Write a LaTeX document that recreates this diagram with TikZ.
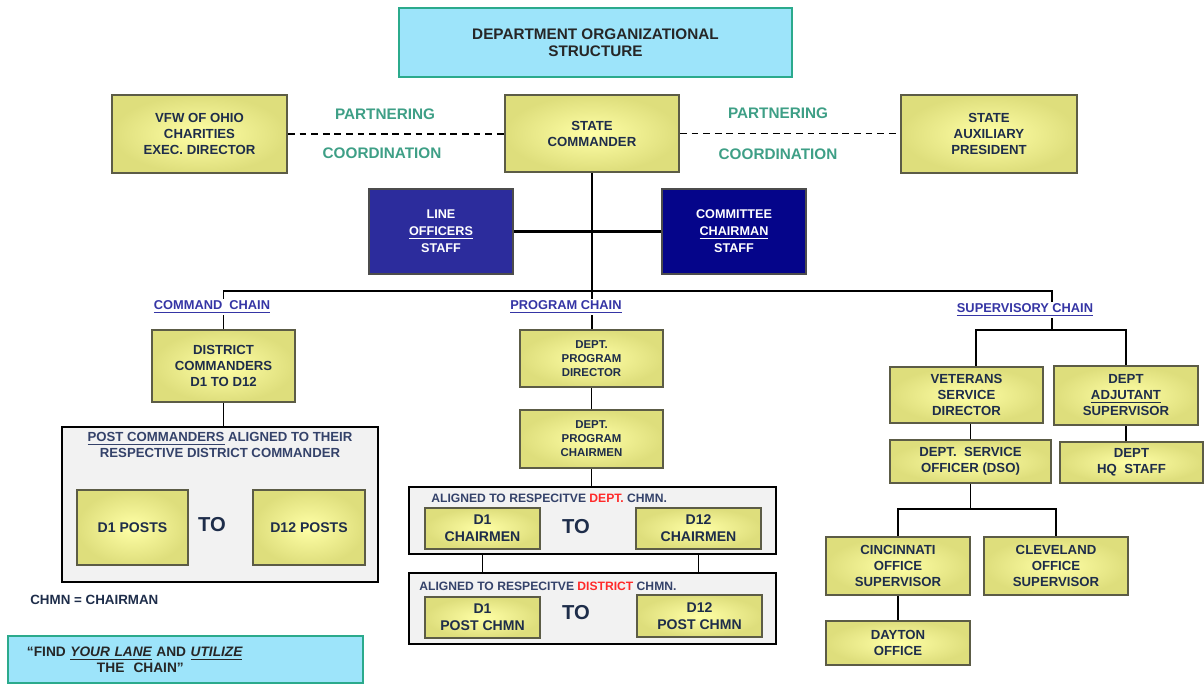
\documentclass[tikz,border=0pt]{standalone}
\usepackage{fontspec}
\setmainfont{Liberation Sans}
\usetikzlibrary{positioning}
\definecolor{yin}{HTML}{FFFFA6}
\definecolor{yout}{HTML}{DEDE7C}
\definecolor{yedge}{HTML}{5C5C46}
\definecolor{ytext}{HTML}{1E2D4A}
\definecolor{skyfill}{HTML}{9DE4FA}
\definecolor{skyedge}{HTML}{2BAA8C}
\definecolor{blueA}{HTML}{2C2C9C}
\definecolor{blueB}{HTML}{05058A}
\definecolor{partner}{HTML}{3E9F86}
\definecolor{chainblue}{HTML}{3535A5}
\definecolor{slate}{HTML}{34426A}
\definecolor{alert}{HTML}{FF2A2A}
\definecolor{holdfill}{HTML}{F2F2F2}
\tikzset{
  wh/.style n args={2}{minimum width=#1*0.2mm, minimum height=#2*0.2mm},
  ybox/.style={draw=yedge, line width=1.2pt, inner color=yin, outer color=yout,
    text=ytext, align=center, inner sep=1pt,
    font=\bfseries\fontsize{7.5}{9.1}\selectfont},
  smallbox/.style={ybox, font=\bfseries\fontsize{6.5}{7.9}\selectfont},
  bbox/.style={draw=gray!60!black, line width=1pt, text=white, align=center,
    font=\bfseries\fontsize{7.2}{9.6}\selectfont},
  skybox/.style={draw=skyedge, line width=1.2pt, fill=skyfill, text=black!85},
  holder/.style={draw=black, line width=1pt, fill=holdfill},
  holdtext/.style={text=slate, inner sep=0pt, font=\bfseries\fontsize{6.9}{8}\selectfont},
  pc/.style={text=partner, font=\bfseries\fontsize{8.7}{10}\selectfont},
  chain/.style={text=chainblue, fill=white, inner sep=1pt,
    font=\bfseries\fontsize{7.3}{8}\selectfont},
  tolabel/.style={text=ytext, font=\bfseries\fontsize{11.5}{12}\selectfont},
  link/.style={line width=0.9pt},
  partnerline/.style={line width=0.9pt, dash pattern=on 3.8pt off 2.8pt}
}
\begin{document}
\begin{tikzpicture}[x=0.2mm, y=-0.2mm]
  \useasboundingbox (0,0) rectangle (1204,684);
  % top row
  \node[skybox, wh={393}{69}, align=center, font=\bfseries\fontsize{8.7}{9.6}\selectfont]
    (title) at (595.5,42.5) {DEPARTMENT ORGANIZATIONAL\\STRUCTURE};
  \node[ybox, wh={175}{78}] (vfw) at (199.5,134) {VFW OF OHIO\\CHARITIES\\EXEC. DIRECTOR};
  \node[ybox, wh={174}{77}] (sc) at (592,133.5) {STATE\\COMMANDER};
  \node[ybox, wh={176}{78}] (aux) at (989,134) {STATE\\AUXILIARY\\PRESIDENT};
  \node[pc] (part1) at (385,114) {PARTNERING};
  \node[pc] (coord1) at (382,153) {COORDINATION};
  \node[pc] (part2) at (778,113) {PARTNERING};
  \node[pc] (coord2) at (778,154) {COORDINATION};
  \node[bbox, fill=blueA, wh={144}{85}] (lo) at (441,231.5) {LINE\\\underline{OFFICERS}\\STAFF};
  \node[bbox, fill=blueB, wh={144}{85}] (cc) at (734,231.5) {COMMITTEE\\\underline{CHAIRMAN}\\STAFF};
  % command chain
  \node[ybox, wh={143}{72}] (dc) at (223.5,366) {DISTRICT\\COMMANDERS\\D1 TO D12};
  \node[holder, wh={316}{155}] (posts) at (220,504.5) {};
  \node[holdtext, align=center, font=\bfseries\fontsize{7.5}{9.1}\selectfont] (poststxt) at (220,445)
    {\underline{POST COMMANDERS} ALIGNED TO THEIR\\RESPECTIVE DISTRICT COMMANDER};
  \node[ybox, wh={111}{75}, font=\bfseries\fontsize{8}{9}\selectfont] (d1p) at (132.5,527.5) {D1 POSTS};
  \node[tolabel] (to1) at (212,525) {TO};
  \node[ybox, wh={112}{75}, font=\bfseries\fontsize{8}{9}\selectfont] (d12p) at (309,527.5) {D12 POSTS};
  \node[text=ytext, anchor=west, inner sep=0pt, font=\bfseries\fontsize{7.6}{9}\selectfont]
    (chmn) at (30,600) {CHMN = CHAIRMAN};
  % program chain
  \node[smallbox, wh={143}{57}] (dpd) at (591.5,358.5) {DEPT.\\PROGRAM\\DIRECTOR};
  \node[smallbox, wh={143}{58}] (dpc) at (591.5,439) {DEPT.\\PROGRAM\\CHAIRMEN};
  \node[holder, wh={367}{67}] (dept) at (592.5,520.5) {};
  \node[holdtext, anchor=west] (depttxt) at (431,498)
    {ALIGNED TO RESPECITVE \textcolor{alert}{DEPT.} CHMN.};
  \node[ybox, wh={115}{41}, font=\bfseries\fontsize{8}{9.6}\selectfont] (d1c) at (482.5,528.5) {D1\\CHAIRMEN};
  \node[tolabel] (to2) at (576,527) {TO};
  \node[ybox, wh={125}{41}, font=\bfseries\fontsize{8}{9.6}\selectfont] (d12c) at (698.5,528.5) {D12\\CHAIRMEN};
  \node[holder, wh={367}{71}] (dist) at (592.5,608.5) {};
  \node[holdtext, anchor=west] (disttxt) at (419,586)
    {ALIGNED TO RESPECITVE \textcolor{alert}{DISTRICT} CHMN.};
  \node[ybox, wh={115}{41}, font=\bfseries\fontsize{8}{9.6}\selectfont] (d1pc) at (482.5,617.5) {D1\\POST CHMN};
  \node[tolabel] (to3) at (576,613) {TO};
  \node[ybox, wh={125}{42}, font=\bfseries\fontsize{8}{9.6}\selectfont] (d12pc) at (699.5,616) {D12\\POST CHMN};
  % supervisory chain
  \node[ybox, wh={153}{56}] (vsd) at (966.5,395) {VETERANS\\SERVICE\\DIRECTOR};
  \node[ybox, wh={144}{59}] (adj) at (1126,395.5) {DEPT\\\underline{ADJUTANT}\\SUPERVISOR};
  \node[ybox, wh={161}{43}] (dso) at (970.5,461.5) {DEPT.\ \ SERVICE\\OFFICER (DSO)};
  \node[ybox, wh={143}{41}] (hq) at (1131.5,462.5) {DEPT\\HQ\ \ STAFF};
  \node[ybox, wh={144}{58}] (cin) at (898,566) {CINCINNATI\\OFFICE\\SUPERVISOR};
  \node[ybox, wh={144}{58}] (cle) at (1056,566) {CLEVELAND\\OFFICE\\SUPERVISOR};
  \node[ybox, wh={144}{44}] (day) at (898,643) {DAYTON\\OFFICE};
  % motto
  \node[skybox, align=left, inner xsep=3.8mm, text width=63.4mm, minimum height=47*0.2mm,
    font=\bfseries\fontsize{7.8}{9}\selectfont] (quote) at (185.5,659.5)
    {“FIND \textit{\underline{YOUR LANE}} AND \textit{\underline{UTILIZE}}\\
     \hspace*{14mm}THE\ \ CHAIN”};
  % connectors
  \draw[partnerline] (vfw.east) -- (vfw.east -| sc.west);
  \draw[partnerline] (sc.east) -- (sc.east -| aux.west);
  \draw[link] (sc.south) -- (sc.south |- dpd.north);
  \draw[line width=1.7pt] (lo.east) -- (cc.west);
  \coordinate (busR) at (1052,291);
  \coordinate (supL) at (976,330);
  \coordinate (supR) at (1126,330);
  \draw[link] (dc.north) |- (busR) -- (busR |- supL);
  \draw[link] (supL |- vsd.north) -- (supL) -- (supR) -- (adj.north);
  \draw[link] (dc.south) -- (dc.south |- posts.north);
  \draw[link] (dpd) -- (dpc);
  \draw[link] (dpc.south) -- (dpc.south |- dept.north);
  \draw[link] (dept.south -| d1c) -- (dist.north -| d1c);
  \draw[link] (dept.south -| d12c) -- (dist.north -| d12c);
  \draw[link] (dso.north) -- (dso.north |- vsd.south);
  \draw[link] (adj) -- (adj |- hq.north);
  \draw[link] (dso.south) -- ++(0,25) coordinate (dsofork);
  \draw[link] (cin.north) |- (dsofork) -| (cle.north);
  \draw[link] (cin) -- (day);
  % chain labels
  \node[chain] (cmdchain) at (212,307) {\underline{COMMAND\ \ CHAIN}};
  \node[chain] (progchain) at (566,307) {\underline{PROGRAM CHAIN}};
  \node[chain] (supchain) at (1025,310) {\underline{SUPERVISORY CHAIN}};
\end{tikzpicture}
\end{document}
